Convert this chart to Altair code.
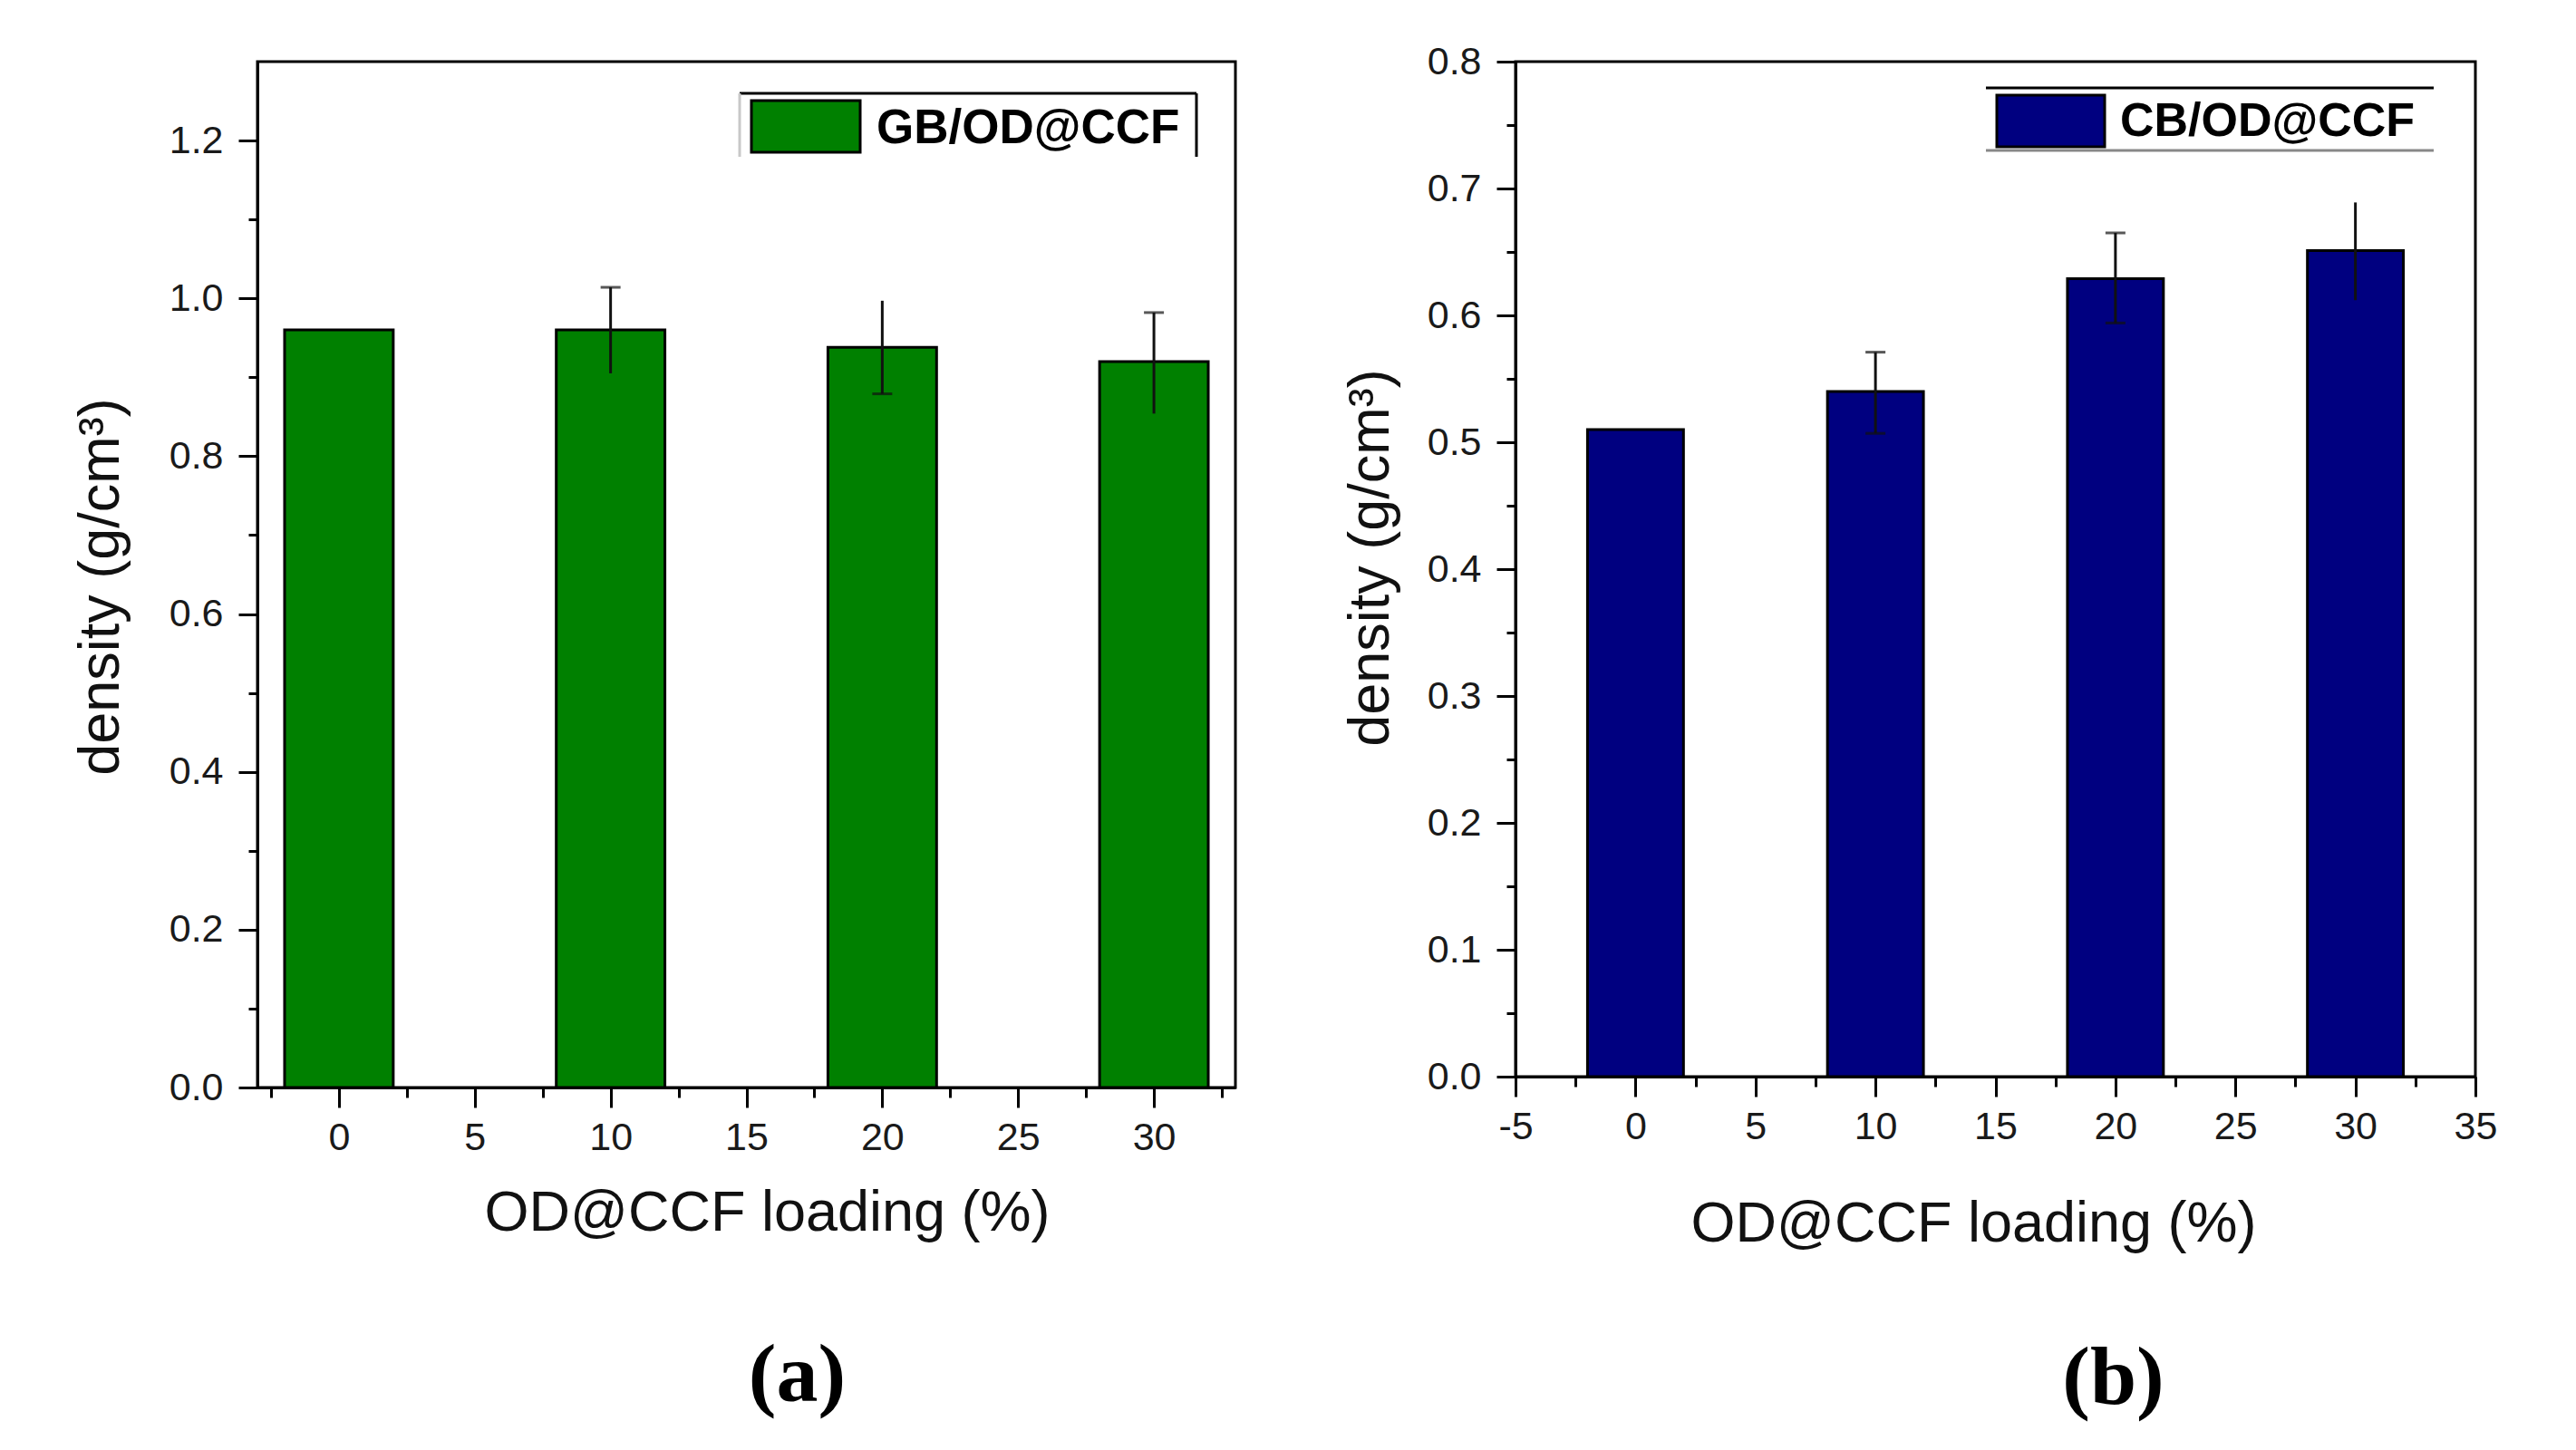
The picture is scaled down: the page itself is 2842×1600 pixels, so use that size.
import altair as alt
import pandas as pd

# ---------------- data ----------------
loading = [0, 10, 20, 30]

density_a = [0.96, 0.96, 0.938, 0.92]
err_lo_a = [None, 0.905, 0.879, 0.854]
err_hi_a = [None, 1.014, 0.997, 0.982]
cap_lo_a = [False, False, True, False]
cap_hi_a = [False, True, False, True]

density_b = [0.51, 0.54, 0.629, 0.651]
err_lo_b = [None, 0.507, 0.594, 0.612]
err_hi_b = [None, 0.571, 0.665, 0.689]
cap_lo_b = [False, True, True, False]
cap_hi_b = [False, True, True, False]

series_a = "GB/OD@CCF"
series_b = "CB/OD@CCF"

xticks_a = [-2.5, 0, 2.5, 5, 7.5, 10, 12.5, 15, 17.5, 20, 22.5, 25, 27.5, 30, 32.5]
xticks_b = [-5, -2.5, 0, 2.5, 5, 7.5, 10, 12.5, 15, 17.5, 20, 22.5, 25, 27.5, 30, 32.5, 35]
yticks_a = [0, 0.1, 0.2, 0.3, 0.4, 0.5, 0.6, 0.7, 0.8, 0.9, 1.0, 1.1, 1.2]
yticks_b = [0, 0.05, 0.1, 0.15, 0.2, 0.25, 0.3, 0.35, 0.4, 0.45, 0.5, 0.55,
            0.6, 0.65, 0.7, 0.75, 0.8]

GREEN = "#008000"
NAVY = "#000080"
SANS = "Liberation Sans"
SERIF = "Liberation Serif"
BAR_HALF = 2


def panel(density, lo, hi, caplo, caphi, series, color, xdom, ydom, xticks, yticks,
          ylabel_test, w, h, xtitle_pos, ytitle_pos, leg, panel_label, title_dx, title_off):
    bars_df = pd.DataFrame({"loading": loading, "density": density, "series": series})
    err_rows = [(l, a, b) for l, a, b in zip(loading, lo, hi) if a is not None]
    err_df = pd.DataFrame(err_rows, columns=["loading", "lo", "hi"])
    cap_rows = []
    for l, a, b, cl, ch in zip(loading, lo, hi, caplo, caphi):
        if cl:
            cap_rows.append((l, a))
        if ch:
            cap_rows.append((l, b))
    cap_df = pd.DataFrame(cap_rows, columns=["loading", "val"])

    xscale = alt.Scale(domain=xdom, nice=False, zero=False)
    yscale = alt.Scale(domain=ydom, nice=False, zero=True)

    xaxis = alt.Axis(
        values=xticks,
        labelExpr="datum.value % 5 === 0 ? '' + datum.value : ''",
        tickSize={"condition": {"test": "datum.value % 5 === 0", "value": 22}, "value": 11},
        labelPadding=12,
        title="OD@CCF loading (%)",
        titleX=xtitle_pos[0], titleY=xtitle_pos[1],
        titleAlign="center", titleBaseline="alphabetic",
    )
    yaxis = alt.Axis(
        values=yticks,
        labelExpr=ylabel_test + " ? format(datum.value, '.1f') : ''",
        tickSize={"condition": {"test": ylabel_test, "value": 21}, "value": 10},
        labelPadding=17,
        title="density (g/cm³)",
        titleX=ytitle_pos[0], titleY=ytitle_pos[1],
        titleAlign="center", titleBaseline="alphabetic", titleAngle=270,
    )

    bars = alt.Chart(bars_df).transform_calculate(
        x0=f"datum.loading - {BAR_HALF}", x1=f"datum.loading + {BAR_HALF}"
    ).mark_bar(color=color, stroke="black", strokeWidth=3).encode(
        x=alt.X("x0:Q", scale=xscale, axis=xaxis),
        x2="x1:Q",
        y=alt.Y("density:Q", scale=yscale, axis=yaxis),
        y2=alt.datum(0),
    )
    err = alt.Chart(err_df).mark_rule(color="#111111", strokeWidth=3).encode(
        x=alt.X("loading:Q"),
        y=alt.Y("lo:Q"),
        y2="hi:Q",
    )
    caps = alt.Chart(cap_df).mark_tick(
        orient="horizontal", color="#111111", size=22, thickness=3
    ).encode(
        x=alt.X("loading:Q"),
        y=alt.Y("val:Q"),
    )

    leg_df = pd.DataFrame({"series": [series]})
    base = alt.Chart(leg_df)
    layers = [bars, err, caps]
    layers.append(base.mark_rect(color=color, stroke="black", strokeWidth=3).encode(
        x=alt.value(leg["sw"][0]), x2=alt.value(leg["sw"][1]),
        y=alt.value(leg["sw"][2]), y2=alt.value(leg["sw"][3])))
    layers.append(base.mark_text(align="left", baseline="alphabetic", font=SANS,
                                 fontSize=leg["fs"], fontWeight="bold", color="black").encode(
        x=alt.value(leg["tx"][0]), y=alt.value(leg["tx"][1]), text="series:N"))
    for (x1, x2, y1, y2, c) in leg["lines"]:
        layers.append(base.mark_rule(color=c, strokeWidth=3).encode(
            x=alt.value(x1), x2=alt.value(x2), y=alt.value(y1), y2=alt.value(y2)))

    return alt.layer(*layers).properties(
        width=w, height=h,
        title=alt.TitleParams(panel_label, orient="bottom", anchor="middle", font=SERIF,
                              fontSize=92, fontWeight="bold", color="black",
                              dx=title_dx, offset=title_off),
    )


left = panel(
    density_a, err_lo_a, err_hi_a, cap_lo_a, cap_hi_a, series_a, GREEN,
    [-3, 33], [0, 1.3], xticks_a, yticks_a,
    "round(datum.value * 10) % 2 === 0",
    1079, 1132, (562, 157), (-154, 579),
    {"sw": (545, 665, 43, 100), "tx": (683, 90), "fs": 53,
     "lines": [(532, 1036, 35, 35, "black"), (1036, 1036, 35, 105, "black"),
               (532, 532, 35, 105, "#c8c8c8")]},
    "(a)", 56, 103,
)

right = panel(
    density_b, err_lo_b, err_hi_b, cap_lo_b, cap_hi_b, series_b, NAVY,
    [-5, 35], [0, 0.8], xticks_b, yticks_b,
    "round(datum.value * 100) % 10 === 0",
    1059, 1120, (505, 181), (-141, 547),
    {"sw": (531, 650, 37, 94), "tx": (667, 82), "fs": 52,
     "lines": [(519, 1013, 29, 29, "black"), (519, 1013, 98, 98, "#888888")]},
    "(b)", 130, 94,
)

chart = alt.hconcat(left, right, spacing=114).properties(
    padding={"left": 70, "top": 37, "right": 5, "bottom": 5},
    background="white",
).configure_view(
    stroke="black", strokeWidth=3
).configure_axis(
    domainColor="black", domainWidth=3, tickColor="black", tickWidth=3,
    labelFont=SANS, labelFontSize=43, labelColor="#1a1a1a",
    labelOverlap=False, labelFlush=False,
    titleFont=SANS, titleFontSize=63, titleFontWeight="normal", titleColor="#111111",
    grid=False,
)

chart.save("out.html", embed_options={"renderer": "svg", "actions": False})
